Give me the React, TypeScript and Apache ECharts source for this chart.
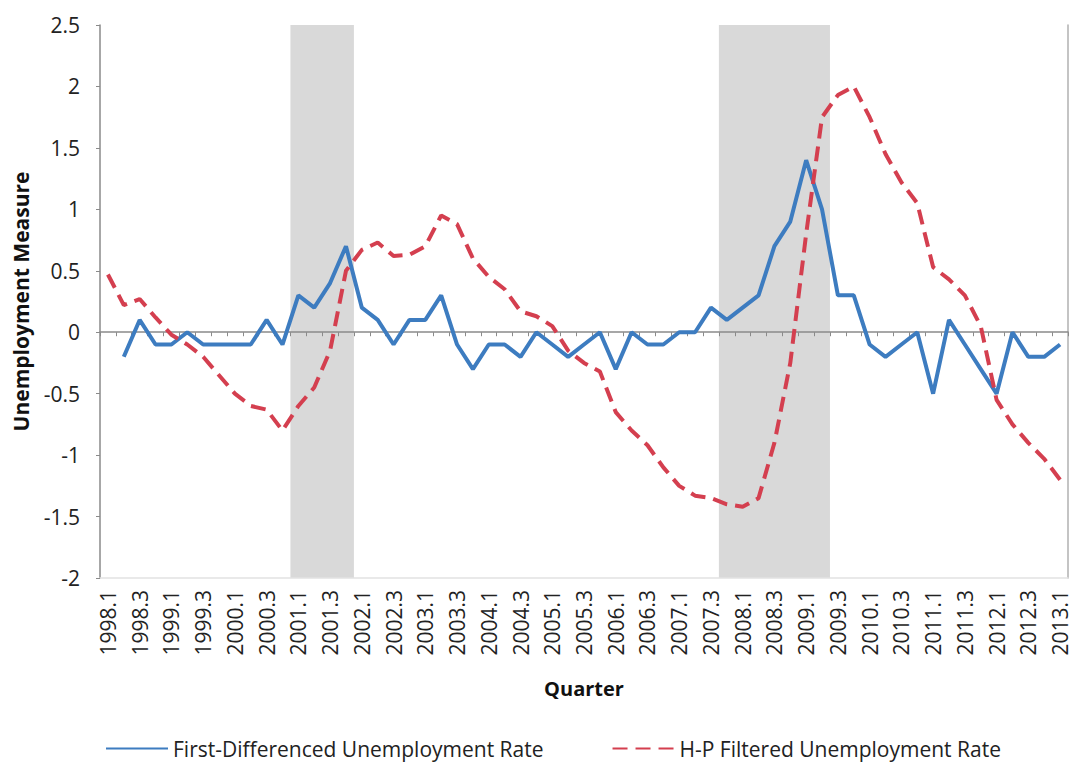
import React, { useEffect, useRef } from "react";
import * as echarts from "echarts";

const quarters: string[] = [
  "1998.1","1998.2","1998.3","1998.4",
  "1999.1","1999.2","1999.3","1999.4",
  "2000.1","2000.2","2000.3","2000.4",
  "2001.1","2001.2","2001.3","2001.4",
  "2002.1","2002.2","2002.3","2002.4",
  "2003.1","2003.2","2003.3","2003.4",
  "2004.1","2004.2","2004.3","2004.4",
  "2005.1","2005.2","2005.3","2005.4",
  "2006.1","2006.2","2006.3","2006.4",
  "2007.1","2007.2","2007.3","2007.4",
  "2008.1","2008.2","2008.3","2008.4",
  "2009.1","2009.2","2009.3","2009.4",
  "2010.1","2010.2","2010.3","2010.4",
  "2011.1","2011.2","2011.3","2011.4",
  "2012.1","2012.2","2012.3","2012.4",
  "2013.1",
];

// First-differenced unemployment rate (no value for the first quarter)
const firstDiff: (number | null)[] = [
  null, -0.2, 0.1, -0.1,
  -0.1, 0, -0.1, -0.1,
  -0.1, -0.1, 0.1, -0.1,
  0.3, 0.2, 0.4, 0.7,
  0.2, 0.1, -0.1, 0.1,
  0.1, 0.3, -0.1, -0.3,
  -0.1, -0.1, -0.2, 0,
  -0.1, -0.2, -0.1, 0,
  -0.3, 0, -0.1, -0.1,
  0, 0, 0.2, 0.1,
  0.2, 0.3, 0.7, 0.9,
  1.4, 1.0, 0.3, 0.3,
  -0.1, -0.2, -0.1, 0,
  -0.5, 0.1, -0.1, -0.3,
  -0.5, 0, -0.2, -0.2,
  -0.1,
];

// H-P filtered unemployment rate (cyclical component)
const hpFiltered: number[] = [
  0.47, 0.22, 0.27, 0.12,
  -0.02, -0.1, -0.2, -0.35,
  -0.5, -0.6, -0.63, -0.8,
  -0.6, -0.45, -0.15, 0.5,
  0.67, 0.73, 0.62, 0.63,
  0.7, 0.95, 0.88, 0.6,
  0.45, 0.35, 0.17, 0.13,
  0.05, -0.15, -0.25, -0.32,
  -0.65, -0.8, -0.92, -1.1,
  -1.25, -1.33, -1.35, -1.4,
  -1.42, -1.35, -0.9, -0.25,
  0.8, 1.75, 1.93, 2.0,
  1.75, 1.45, 1.22, 1.05,
  0.53, 0.43, 0.3, 0.05,
  -0.55, -0.75, -0.9, -1.03,
  -1.2,
];

// Recession periods (first and last shaded quarter)
const recessionStart: string[] = ["2001.1", "2007.4"];
const recessionEnd: string[] = ["2001.4", "2009.2"];

const yTicks = { min: -2, max: 2.5, interval: 0.5 };

const seriesNames = [
  "First-Differenced Unemployment Rate",
  "H-P Filtered Unemployment Rate",
];

const FONT = "'Open Sans', 'Liberation Sans', sans-serif";

export default function App() {
  const ref = useRef<HTMLDivElement>(null);

  useEffect(() => {
    if (!ref.current) return;
    const chart = echarts.init(ref.current, undefined, { renderer: "svg" });
    const shadeData = recessionStart.map((s, i) => [
      quarters.indexOf(s),
      quarters.indexOf(recessionEnd[i]),
    ]);
    const option: any = {
      animation: false,
      backgroundColor: "#ffffff",
      textStyle: { fontFamily: FONT },
      grid: {
        left: 100,
        right: 5,
        top: 25,
        bottom: 186,
        containLabel: false,
        outerBoundsMode: "none",
      },
      legend: {
        data: seriesNames,
        left: 100,
        top: 733,
        itemWidth: 62,
        itemHeight: 14,
        itemGap: 68,
        itemStyle: { opacity: 0 },
        textStyle: { fontFamily: FONT, fontSize: 21, color: "#222" },
      },
      xAxis: [
        {
          type: "category",
          data: quarters,
          position: "bottom",
          boundaryGap: true,
          axisLine: {
            onZero: true,
            onZeroAxisIndex: 0,
            lineStyle: { color: "#8a8a8a", width: 1.5 },
          },
          axisTick: { show: true, interval: 0, length: 4, lineStyle: { color: "#8a8a8a" } },
          axisLabel: { show: false },
          splitLine: { show: false },
        },
        {
          type: "category",
          data: quarters,
          position: "bottom",
          boundaryGap: true,
          axisLine: { onZero: false, show: true, lineStyle: { color: "#e2e2e2", width: 1.5 } },
          axisTick: { show: false },
          axisLabel: {
            interval: 1,
            rotate: 90,
            margin: 12,
            fontSize: 21,
            color: "#222",
            fontFamily: FONT,
          },
          name: "Quarter",
          nameLocation: "middle",
          nameGap: 100,
          nameTextStyle: { fontFamily: FONT, fontSize: 20, fontWeight: "bold", color: "#111" },
          splitLine: { show: false },
        },
      ],
      yAxis: [
        {
          type: "value",
          min: yTicks.min,
          max: yTicks.max,
          interval: yTicks.interval,
          position: "left",
          axisLine: { show: true, lineStyle: { color: "#8a8a8a", width: 1.5 } },
          axisTick: { show: true, length: 4, lineStyle: { color: "#8a8a8a" } },
          axisLabel: { margin: 20, fontSize: 21, color: "#222", fontFamily: FONT },
          splitLine: { show: false },
          name: "Unemployment Measure",
          nameLocation: "middle",
          nameGap: 69,
          nameTextStyle: { fontFamily: FONT, fontSize: 21, fontWeight: "bold", color: "#111" },
        },
        {
          type: "value",
          min: 0,
          max: 1,
          position: "right",
          axisLine: { show: true, lineStyle: { color: "#b0b0b0", width: 1.5 } },
          axisTick: { show: false },
          axisLabel: { show: false },
          splitLine: { show: false },
        },
      ],
      series: [
        {
          name: "Recession",
          type: "custom",
          xAxisIndex: 1,
          yAxisIndex: 0,
          data: shadeData,
          encode: { x: [0, 1] },
          silent: true,
          z: 0,
          renderItem: (params: any, api: any) => {
            const s = api.coord([api.value(0), 0]);
            const e = api.coord([api.value(1), 0]);
            const bw = api.size([1, 0])[0];
            const cs = params.coordSys;
            return {
              type: "rect",
              shape: { x: s[0] - bw / 2, y: cs.y, width: e[0] - s[0] + bw, height: cs.height },
              style: { fill: "#d9d9d9" },
            };
          },
        },
        {
          name: seriesNames[0],
          type: "line",
          xAxisIndex: 0,
          yAxisIndex: 0,
          data: firstDiff,
          symbol: "none",
          connectNulls: false,
          lineStyle: { color: "#3d7cc0", width: 4 },
          itemStyle: { color: "#3d7cc0" },
          z: 3,
        },
        {
          name: seriesNames[1],
          type: "line",
          xAxisIndex: 0,
          yAxisIndex: 0,
          data: hpFiltered,
          symbol: "none",
          lineStyle: { color: "#d43f4f", width: 4, type: [15, 8] },
          itemStyle: { color: "#d43f4f" },
          z: 4,
        },
      ],
    };
    chart.setOption(option);
    return () => chart.dispose();
  }, []);

  return (
    <div
      ref={ref}
      style={{ position: "fixed", left: 0, top: 0, width: 1073, height: 764, background: "#fff" }}
    />
  );
}
